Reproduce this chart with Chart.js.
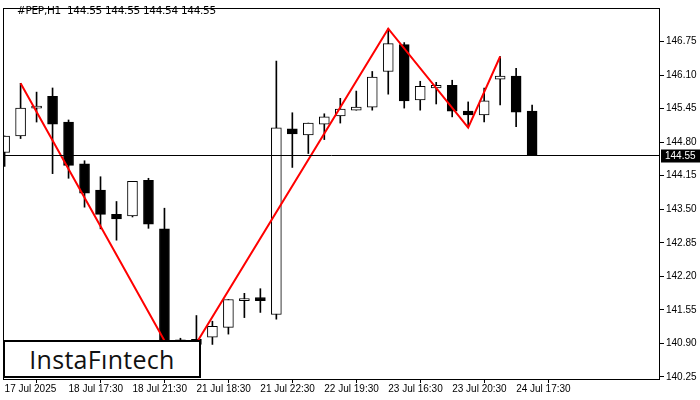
<!DOCTYPE html>
<html><head><meta charset="utf-8">
<script src="https://cdn.jsdelivr.net/npm/chart.js@4"></script>
<style>body{margin:0;background:#fff}#w{position:relative;width:700px;height:400px}
#t{position:absolute;left:17px;top:4px;font:10.5px "DejaVu Sans",sans-serif;color:#000;letter-spacing:-0.3px}
#logo{position:absolute;left:3px;top:340px;width:194px;height:34px;border:2px solid #000;background:#fff;font:500 25px "Open Sans",sans-serif;color:#111;text-align:center;line-height:34px;letter-spacing:0.3px}</style>
</head><body><div id="w"><canvas id="c" width="700" height="400"></canvas>
<div id="t">#PEP,H1&nbsp; 144.55 144.55 144.54 144.55</div><div id="logo">InstaFıntech</div></div>
<script>
const opens  =[144.60,144.92,145.46,145.69,145.19,144.38,143.87,143.40,143.37,144.06,143.12,140.95,140.88,141.02,141.21,141.73,141.79,141.46,145.06,144.94,145.15,145.31,145.42,145.48,146.17,146.69,145.62,145.85,145.90,145.40,145.33,146.02,146.08,145.40];
const closes =[144.92,145.46,145.46,145.15,144.35,143.81,143.40,143.31,144.04,143.21,140.95,140.93,140.98,141.23,141.75,141.77,141.73,145.08,144.96,145.17,145.29,145.44,145.48,146.06,146.71,145.60,145.88,145.90,145.40,145.33,145.60,146.08,145.38,144.55];
const highs  =[144.92,145.94,145.77,145.85,145.23,144.44,144.13,143.65,144.04,144.10,143.52,141.00,141.44,141.33,141.75,141.87,141.96,146.37,145.37,145.17,145.35,145.65,145.79,146.17,147.00,146.73,145.98,145.96,146.00,145.58,145.85,146.46,146.23,145.52];
const lows   =[144.33,144.87,145.19,144.19,144.10,143.54,143.12,142.90,143.35,143.13,140.85,140.85,140.80,140.88,141.08,141.40,141.50,141.37,144.31,144.58,144.85,145.17,145.42,145.42,145.73,145.46,145.42,145.54,145.29,145.10,145.19,145.52,145.10,144.54];
const patternIdx=[1,11,24,29,31];
const patternVal=[145.94,140.40,147.00,145.08,146.46];
const xTickIdx=[0,4,8,12,16,20,24,28,32];
const xTickLabels=["17 Jul 2025","18 Jul 17:30","18 Jul 21:30","21 Jul 18:30","21 Jul 22:30","22 Jul 19:30","23 Jul 16:30","23 Jul 20:30","24 Jul 17:30"];
const yTicks=[140.25,140.90,141.55,142.20,142.85,143.50,144.15,144.80,145.45,146.10,146.75];
const lastPrice=144.55;

const wicks=highs.map((h,i)=>({x:i,y:[lows[i],h]}));
const bodies=opens.map((o,i)=>({x:i,y:[o,closes[i]]}));
const bodyColors=opens.map((o,i)=>closes[i]<o?'#000':'#fff');
const font={family:'"Liberation Sans",sans-serif',size:10};
const frame={id:'frame',afterDraw(ch){const a=ch.chartArea,c=ch.ctx,y=ch.scales.y;
 c.save();c.strokeStyle='#000';c.lineWidth=1;
 const py=Math.round(y.getPixelForValue(lastPrice))+0.5;
 c.beginPath();c.moveTo(a.left,py);c.lineTo(a.right,py);c.stroke();
 c.strokeRect(a.left+0.5,a.top+0.5,a.right-a.left-1,a.bottom-a.top);
 c.fillStyle='#000';c.fillRect(a.right+1,py-6,39,13);
 c.fillStyle='#fff';c.font='10px "Liberation Sans",sans-serif';c.textBaseline='middle';c.fillText(lastPrice.toFixed(2),a.right+5,py+1);
 c.restore();}};
new Chart(document.getElementById('c'),{
 data:{datasets:[
  {type:'bar',data:wicks,backgroundColor:'#000',barThickness:1,grouped:false,order:3},
  {type:'bar',data:bodies,backgroundColor:bodyColors,borderColor:'#000',borderWidth:1,borderSkipped:false,barThickness:10,minBarLength:2,grouped:false,order:2},
  {type:'line',data:patternIdx.map((x,i)=>({x,y:patternVal[i]})),borderColor:'#ff0000',borderWidth:2,pointRadius:0,tension:0,order:1}
 ]},
 plugins:[frame],
 options:{responsive:false,animation:false,events:[],
  layout:{padding:{left:3,top:5}},
  plugins:{legend:{display:false},tooltip:{enabled:false}},
  scales:{
   x:{type:'linear',min:-0.1,max:41,offset:false,
      afterBuildTicks(s){s.ticks=xTickIdx.map(v=>({value:v}));},
      afterFit(s){s.height=21;},
      grid:{drawOnChartArea:false,tickLength:4,color:'#000'},border:{display:false},
      ticks:{autoSkip:false,maxRotation:0,align:'start',padding:0,color:'#000',font,callback:(v)=>xTickLabels[xTickIdx.indexOf(v)]}},
   y:{position:'right',min:140.21,max:147.40,
      afterBuildTicks(s){s.ticks=yTicks.map(v=>({value:v}));},
      afterFit(s){s.width=40;},
      grid:{drawOnChartArea:false,tickLength:4,color:'#000'},border:{display:false},
      ticks:{padding:2,color:'#000',font,callback:v=>v.toFixed(2)}}
  }}
});
</script></body></html>
